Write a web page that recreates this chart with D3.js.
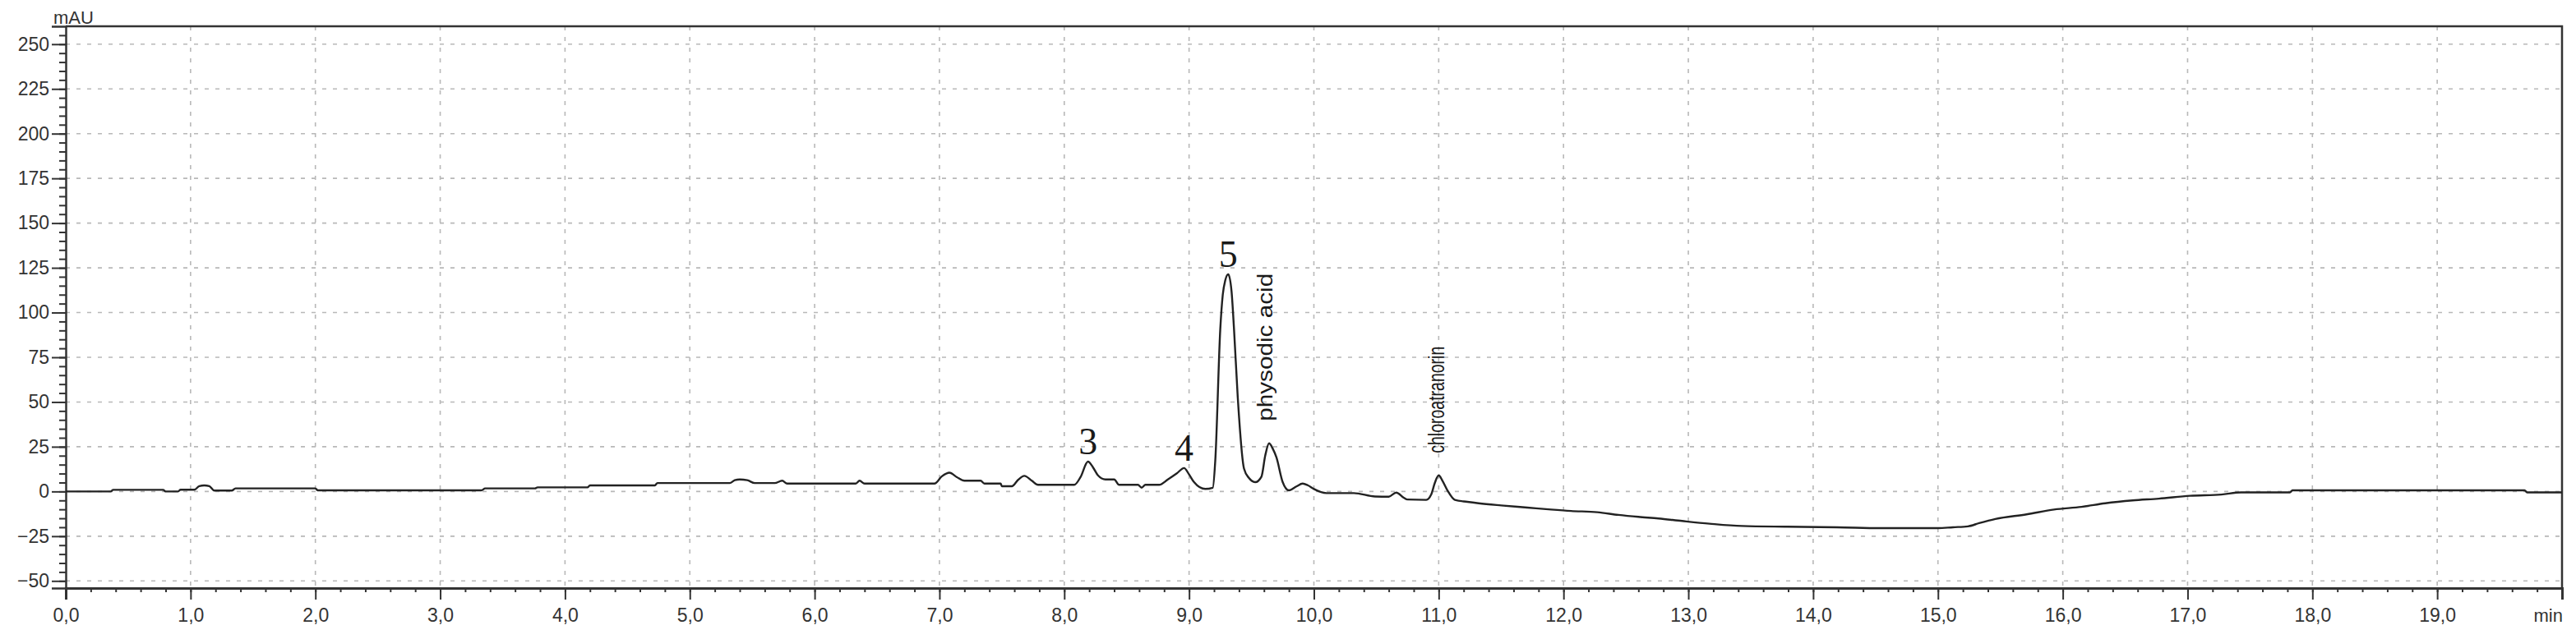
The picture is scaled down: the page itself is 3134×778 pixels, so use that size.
<!DOCTYPE html>
<html>
<head>
<meta charset="utf-8">
<script src="https://cdn.jsdelivr.net/npm/d3@7"></script>
<style>
  html, body { margin: 0; padding: 0; background: #fff; overflow: hidden; }
  #chart { width: 3134px; height: 778px; }
  .tick text { font-family: "Liberation Sans", Arial, sans-serif; font-size: 23px; fill: #333; }
  .axis path, .axis line { stroke: #333; }
  .grid line { stroke: #b8b8b8; stroke-width: 1.6; stroke-dasharray: 5 8; }
  .trace { fill: none; stroke: #222; stroke-width: 2.4; stroke-linejoin: round; }
  .unit { font-family: "Liberation Sans", Arial, sans-serif; font-size: 22px; fill: #333; }
  .peakNum { font-family: "Liberation Serif", "Times New Roman", serif; font-size: 46px; fill: #1a1a1a; }
  .peakName { font-family: "Liberation Sans", Arial, sans-serif; fill: #1a1a1a; }
</style>
</head>
<body>
<div id="chart"></div>
<script>
// Chromatogram trace, retention time (min) vs absorbance (mAU).
const retentionTime = [
  0.00, 0.36, 0.38, 0.78, 0.80, 0.90, 0.92, 1.03, 1.07, 1.11, 1.15, 1.19, 1.33, 1.36, 2.00, 2.02,
  3.33, 3.36, 3.76, 3.78, 4.18, 4.20, 4.72, 4.74, 5.32, 5.36, 5.40, 5.46, 5.52, 5.68, 5.74, 5.78,
  6.33, 6.36, 6.40, 6.96, 7.02, 7.08, 7.14, 7.20, 7.33, 7.36, 7.49, 7.50, 7.58, 7.63, 7.68, 7.74,
  7.79, 8.08, 8.13, 8.19, 8.23, 8.27, 8.33, 8.40, 8.44, 8.59, 8.62, 8.65, 8.76, 8.83, 8.90, 8.96,
  9.00, 9.04, 9.13, 9.19, 9.21, 9.25, 9.27, 9.29, 9.314, 9.34, 9.36, 9.39, 9.44, 9.48, 9.53, 9.58,
  9.61, 9.641, 9.67, 9.70, 9.75, 9.80, 9.86, 9.91, 9.95, 10.00, 10.10, 10.32, 10.49, 10.60, 10.66, 10.72,
  10.75, 10.90, 10.94, 10.97, 11.00, 11.03, 11.07, 11.13, 11.23, 11.32, 11.50, 11.71, 11.90, 12.06, 12.27, 12.44,
  12.60, 12.76, 12.95, 13.17, 13.43, 13.79, 14.19, 14.57, 15.00, 15.12, 15.24, 15.33, 15.46, 15.71, 15.93, 16.15,
  16.34, 16.56, 16.77, 17.02, 17.27, 17.43, 17.82, 17.84, 19.70, 19.72, 20.00
];
const absorbance = [
  0.0, 0.0, 0.9, 0.9, 0.0, 0.0, 1.0, 1.0, 3.0, 3.4, 3.0, 0.5, 0.5, 1.7, 1.7, 0.6,
  0.6, 1.7, 1.7, 2.3, 2.3, 3.4, 3.4, 4.7, 4.7, 6.3, 6.7, 6.3, 4.7, 4.7, 6.0, 4.4,
  4.4, 6.0, 4.4, 4.4, 8.5, 10.5, 8.0, 6.0, 6.0, 4.4, 4.4, 2.9, 2.9, 6.5, 8.7, 6.0,
  3.7, 3.7, 8.0, 16.7, 13.5, 9.0, 6.7, 6.7, 3.7, 3.7, 2.1, 3.7, 3.7, 6.7, 10.0, 13.1,
  9.5, 5.2, 1.4, 2.1, 17.4, 90.8, 110.0, 118.0, 121.4, 112.0, 90.8, 52.6, 12.8, 7.5, 5.2, 8.3,
  20.0, 26.9, 24.0, 19.0, 5.2, 0.6, 2.8, 4.4, 3.5, 1.4, -0.9, -0.9, -2.8, -2.9, -0.6, -3.5,
  -4.5, -4.7, -1.7, 5.0, 9.0, 6.0, 0.6, -4.7, -5.8, -6.6, -7.8, -9.0, -10.1, -10.9, -11.6, -13.1,
  -14.2, -15.1, -16.5, -18.0, -19.3, -19.7, -20.0, -20.5, -20.5, -20.0, -19.5, -17.7, -15.4, -12.8, -10.1, -8.6,
  -6.6, -5.0, -4.0, -2.4, -1.7, -0.5, -0.5, 0.6, 0.6, -0.5, -0.5
];

// Peak annotations.
const peakNumbers = ["3", "4", "5"];
const peakNumberTimes = [8.19, 8.96, 9.314];
const peakNames = ["physodic acid", "chloroatranorin"];
const peakNameTimes = [9.641, 11.00];

// Axis ticks.
const xTickValues = d3.range(0, 21, 1);
const xMinorTickValues = d3.range(0, 20.01, 0.2);
const yTickValues = [-50, -25, 0, 25, 50, 75, 100, 125, 150, 175, 200, 225, 250];
const yMinorTickValues = d3.range(-50, 256, 5);
const xDomain = [0, 20];
const yDomain = [-54, 260];

// Chart main elements.
let svg = null;
let xScale = null;
let yScale = null;
let series = null;

const widthAbs = 3134;
const heightAbs = 778;
const padding = { top: 32, right: 17, bottom: 62, left: 80 };
const innerWidth = widthAbs - padding.left - padding.right;
const innerHeight = heightAbs - padding.top - padding.bottom;

function valueAt(t) {
  const i = d3.bisector((d) => d.t).left(series, t);
  return series[Math.min(i, series.length - 1)].v;
}

function initializeSvg() {
  svg = d3.select("#chart")
    .append("svg")
    .attr("width", widthAbs)
    .attr("height", heightAbs)
    .style("display", "block");
  svg.append("rect").attr("width", widthAbs).attr("height", heightAbs).attr("fill", "#fff");
  svg = svg.append("g")
    .attr("transform", `translate(${padding.left},${padding.top})`);
}

function initializeScales() {
  xScale = d3.scaleLinear().domain(xDomain).range([0, innerWidth]);
  yScale = d3.scaleLinear().domain(yDomain).range([innerHeight, 0]);
}

function initializeGrid() {
  svg.append("g")
    .attr("class", "grid")
    .selectAll("line")
    .data(yTickValues)
    .join("line")
    .attr("x1", 0)
    .attr("x2", innerWidth)
    .attr("y1", (d) => yScale(d))
    .attr("y2", (d) => yScale(d));

  svg.append("g")
    .attr("class", "grid")
    .selectAll("line")
    .data(xTickValues.filter((d) => d > 0 && d < 20))
    .join("line")
    .attr("x1", (d) => xScale(d))
    .attr("x2", (d) => xScale(d))
    .attr("y1", 0)
    .attr("y2", innerHeight);
}

function initializeAxis() {
  // Minor ticks first, majors drawn over them.
  svg.append("g")
    .attr("class", "axis")
    .attr("transform", `translate(0,${innerHeight})`)
    .call(d3.axisBottom(xScale).tickValues(xMinorTickValues).tickSize(5).tickFormat(""))
    .call((g) => g.selectAll("line").attr("stroke-width", 2));

  svg.append("g")
    .attr("class", "axis")
    .attr("transform", `translate(0,${innerHeight})`)
    .call(d3.axisBottom(xScale)
            .tickValues(xTickValues)
            .tickSize(14)
            .tickPadding(11)
            .tickFormat((d) => d === 20 ? "" : d3.format(".1f")(d).replace(".", ",")))
    .call((g) => g.selectAll("line").attr("stroke-width", 2))
    .call((g) => g.select(".domain").attr("stroke-width", 3));

  svg.append("g")
    .attr("class", "axis")
    .call(d3.axisLeft(yScale).tickValues(yMinorTickValues).tickSize(8).tickFormat(""))
    .call((g) => g.selectAll("line").attr("stroke-width", 2));

  svg.append("g")
    .attr("class", "axis")
    .call(d3.axisLeft(yScale)
            .tickValues(yTickValues)
            .tickSize(17)
            .tickPadding(3))
    .call((g) => g.selectAll("line").attr("stroke-width", 2))
    .call((g) => g.select(".domain").attr("stroke-width", 2.5));

  // Frame: top and right sides.
  svg.append("path")
    .attr("d", `M0,0H${innerWidth}V${innerHeight}`)
    .attr("fill", "none")
    .attr("stroke", "#333")
    .attr("stroke-width", 2.5);

  svg.append("text")
    .attr("class", "unit")
    .attr("x", -15)
    .attr("y", -3)
    .text("mAU");

  svg.append("text")
    .attr("class", "unit")
    .attr("text-anchor", "end")
    .attr("x", xScale(20) + 1)
    .attr("y", innerHeight + 41)
    .text("min");
}

function initializeSelections() {
  series = retentionTime.map((t, i) => ({ t: t, v: absorbance[i] }));

  const line = d3.line()
    .x((d) => xScale(d.t))
    .y((d) => yScale(d.v))
    .curve(d3.curveMonotoneX);

  svg.append("path")
    .datum(series)
    .attr("class", "trace")
    .attr("d", line);

  svg.append("g")
    .selectAll("text")
    .data(peakNumbers)
    .join("text")
    .attr("class", "peakNum")
    .attr("text-anchor", "middle")
    .attr("x", (d, i) => xScale(peakNumberTimes[i]))
    .attr("y", (d, i) => yScale(valueAt(peakNumberTimes[i])) - 9)
    .text((d) => d);

  const nameSizes = [25, 27];
  const nameLengths = [180, 130];
  const nameShift = [4, 7];
  svg.append("g")
    .selectAll("text")
    .data(peakNames)
    .join("text")
    .attr("class", "peakName")
    .attr("font-size", (d, i) => nameSizes[i])
    .attr("textLength", (d, i) => nameLengths[i])
    .attr("lengthAdjust", "spacingAndGlyphs")
    .attr("transform", (d, i) =>
      `translate(${xScale(peakNameTimes[i]) + nameShift[i]},${yScale(valueAt(peakNameTimes[i])) - 27})rotate(-90)`)
    .text((d) => d);
}

initializeSvg();
initializeScales();
initializeGrid();
initializeAxis();
initializeSelections();
</script>
</body>
</html>
